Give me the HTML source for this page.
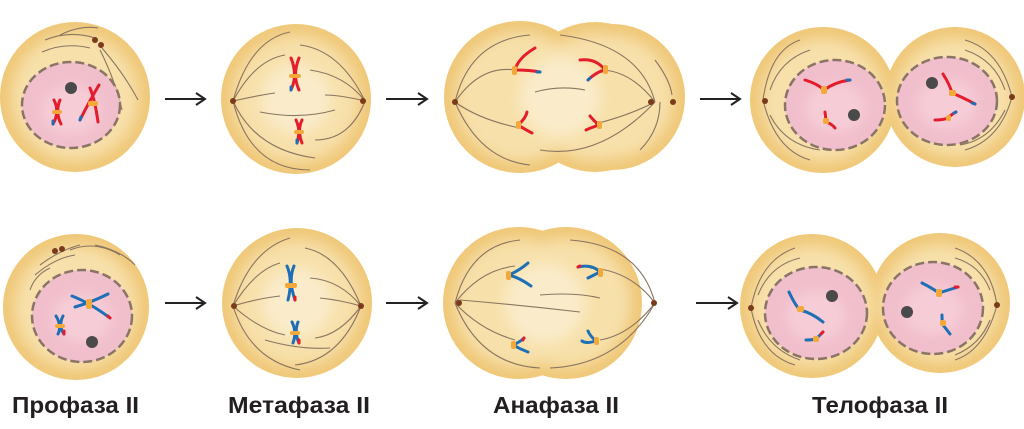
<!DOCTYPE html>
<html><head><meta charset="utf-8"><style>
html,body{margin:0;padding:0;background:#fff;width:1024px;height:429px;overflow:hidden}
svg{display:block}
text{font-family:"Liberation Sans",sans-serif;font-weight:bold;font-size:23px;fill:#231f20}
</style></head><body>
<svg width="1024" height="429" viewBox="0 0 1024 429" xmlns="http://www.w3.org/2000/svg">
<defs>
<filter id="bl" x="-20%" y="-20%" width="140%" height="140%"><feGaussianBlur stdDeviation="7"/></filter>
<filter id="bl2" x="-20%" y="-20%" width="140%" height="140%"><feGaussianBlur stdDeviation="5"/></filter>
</defs>
<g fill="none" stroke="#222" stroke-width="2">
<path d="M165 99H204M196 93L205 99L196 105"/>
<path d="M386 99H426M418 93L427 99L418 105"/>
<path d="M700 99H739M731 93L740 99L731 105"/>
<path d="M165 303H204M196 297L205 303L196 309"/>
<path d="M386 303H426M418 297L427 303L418 309"/>
<path d="M696 303H736M728 297L737 303L728 309"/>
</g>
<!-- cells: edge layer -->
<g fill="#efc777">
<circle cx="75" cy="97" r="75"/>
<circle cx="296" cy="99" r="75"/>
<circle cx="612" cy="97" r="73"/>
<circle cx="595" cy="97" r="75"/>
<circle cx="520" cy="97" r="76"/>
<circle cx="823" cy="100" r="73"/>
<circle cx="955" cy="97" r="70"/>
<circle cx="76" cy="307" r="73"/>
<circle cx="297" cy="303" r="75"/>
<circle cx="566" cy="303" r="76"/>
<circle cx="519" cy="303" r="76"/>
<circle cx="812" cy="306" r="72"/>
<circle cx="940" cy="303" r="70"/>
</g>
<g fill="#f7e0aa" filter="url(#bl)">
<circle cx="75" cy="97" r="64"/>
<circle cx="296" cy="99" r="64"/>
<circle cx="612" cy="97" r="62"/>
<circle cx="595" cy="97" r="64"/>
<circle cx="520" cy="97" r="65"/>
<circle cx="823" cy="100" r="62"/>
<circle cx="955" cy="97" r="59"/>
<circle cx="76" cy="307" r="62"/>
<circle cx="297" cy="303" r="64"/>
<circle cx="566" cy="303" r="65"/>
<circle cx="519" cy="303" r="65"/>
<circle cx="812" cy="306" r="61"/>
<circle cx="940" cy="303" r="59"/>
</g>
<g fill="#faeccb" filter="url(#bl)">
<circle cx="296" cy="99" r="35"/><circle cx="560" cy="97" r="40"/>
<circle cx="297" cy="303" r="35"/><circle cx="545" cy="303" r="40"/>
</g>
<!-- spindle fibers -->
<g fill="none" stroke="#8a7560" stroke-width="1.1">
<path d="M45 40Q70 30 95 38M42 52Q65 42 90 48M102 48Q125 75 138 100M100 50Q115 80 122 110M60 35Q80 25 98 28"/>
<path d="M233 101Q250 40 290 32M233 101Q255 60 285 55M233 101Q260 95 275 93M233 101Q255 150 315 158M233 101Q250 170 310 170M365 101Q340 50 300 45M365 101Q345 75 310 70M365 101Q340 95 325 95M260 112Q300 120 335 110M365 101Q350 140 315 140"/>
<path d="M455 102Q470 40 530 35M455 102Q480 65 515 70M455 102Q480 120 520 128M455 102Q480 160 530 165M655 102Q640 45 560 35M655 102Q630 70 600 70M655 102Q630 115 595 124M655 102Q600 160 540 150M535 92Q560 85 585 90M660 102Q660 130 640 150M655 60Q670 80 672 95"/>
<path d="M763 100Q770 50 800 40M770 90Q780 60 810 50M763 100Q775 150 810 160M770 115Q785 145 820 150M1012 97Q1000 50 965 40M1005 90Q995 60 965 50M1012 97Q1000 140 965 150M1005 110Q990 140 960 145"/>
<path d="M40 265Q60 250 80 245M35 275Q55 258 75 255M70 250Q95 240 120 255M95 245Q120 250 135 265M30 290Q35 275 50 268"/>
<path d="M233 306Q250 250 290 238M233 306Q255 270 280 263M233 306Q260 298 280 296M233 306Q260 330 285 335M233 306Q250 360 300 370M361 306Q340 255 305 248M361 306Q340 280 310 278M361 306Q340 300 320 298M361 306Q340 335 315 338M361 306Q340 360 295 365M265 340Q300 350 330 348"/>
<path d="M455 303Q470 245 520 240M455 303Q480 270 515 266M455 303Q480 330 515 340M455 303Q480 365 540 368M460 300Q520 305 580 312M655 303Q640 245 570 240M655 303Q630 270 590 268M655 303Q630 335 600 340M655 303Q620 365 550 368M540 295Q575 292 600 298"/>
<path d="M751 308Q760 260 795 248M758 295Q770 265 800 258M751 308Q760 355 795 365M758 320Q770 350 800 360M997 305Q990 260 955 248M990 290Q980 265 955 258M997 305Q985 350 955 360M990 320Q980 345 955 355"/>
</g>
<!-- poles -->
<g fill="#7a3a1c">
<circle cx="95" cy="40" r="3"/><circle cx="101" cy="45" r="3"/>
<circle cx="233" cy="101" r="3"/><circle cx="363" cy="101" r="3"/>
<circle cx="455" cy="102" r="3"/><circle cx="651" cy="102" r="3"/><circle cx="673" cy="102" r="3"/>
<circle cx="765" cy="101" r="3"/><circle cx="1012" cy="97" r="3"/>
<circle cx="55" cy="251" r="3"/><circle cx="62" cy="249" r="3"/>
<circle cx="234" cy="306" r="3"/><circle cx="361" cy="306" r="3"/>
<circle cx="459" cy="303" r="3"/><circle cx="654" cy="303" r="3"/>
<circle cx="751" cy="308" r="3"/><circle cx="997" cy="305" r="3"/>
</g>
<!-- nuclei -->
<g fill="#f1bfcc" stroke="#8a7466" stroke-width="2.5" stroke-dasharray="9 4">
<ellipse cx="71" cy="105" rx="49" ry="43"/>
<ellipse cx="835" cy="105" rx="50" ry="45"/>
<ellipse cx="947" cy="101" rx="50" ry="44"/>
<ellipse cx="82" cy="316" rx="50" ry="46"/>
<ellipse cx="816" cy="313" rx="51" ry="46"/>
<ellipse cx="933" cy="308" rx="50" ry="46"/>
</g>
<g fill="#f6ccd6" filter="url(#bl2)">
<ellipse cx="71" cy="110" rx="30" ry="25"/>
<ellipse cx="835" cy="108" rx="30" ry="25"/>
<ellipse cx="947" cy="104" rx="30" ry="25"/>
<ellipse cx="82" cy="318" rx="30" ry="25"/>
<ellipse cx="816" cy="316" rx="30" ry="25"/>
<ellipse cx="933" cy="310" rx="30" ry="25"/>
</g>
<g fill="#4a4a4a">
<circle cx="71" cy="88" r="6"/><circle cx="854" cy="115" r="6"/><circle cx="932" cy="83" r="6"/>
<circle cx="92" cy="342" r="6"/><circle cx="832" cy="296" r="6"/><circle cx="907" cy="312" r="6"/>
</g>
<!-- chromosomes red -->
<g fill="none" stroke="#e31d2b" stroke-width="3" stroke-linecap="round">
<path d="M54 100Q60 112 53 124M60 100Q55 112 61 124"/>
<path d="M99 85Q90 100 80 120M90 88Q95 100 98 122"/>
<path d="M291 58Q298 75 291 90M299 58Q292 75 299 90"/>
<path d="M296 120Q301 130 297 143M302 120Q297 130 302 143"/>
<path d="M535 48Q518 58 515 70Q530 70 540 72"/>
<path d="M580 60Q596 58 605 70Q596 72 588 80"/>
<path d="M518 125Q526 130 532 133M518 125Q526 118 527 112"/>
<path d="M599 125Q590 128 586 130M599 125Q593 120 590 116"/>
<path d="M805 80Q818 84 824 90Q835 82 850 80"/>
<path d="M825 112Q826 120 826 122Q832 124 835 128"/>
<path d="M943 74Q950 85 952 93Q962 97 975 104"/>
<path d="M935 120Q943 120 948 118Q952 114 956 112"/>
</g>
<!-- chromosomes blue -->
<g fill="none" stroke="#1e6fb5" stroke-width="3" stroke-linecap="round">
<path d="M72 296Q90 303 110 318M75 307Q92 302 108 294"/>
<path d="M56 316Q62 326 58 334M63 316Q58 326 64 334"/>
<path d="M287 266Q293 280 288 300M294 266Q288 280 295 300"/>
<path d="M292 322Q297 332 293 343M298 322Q294 332 299 343"/>
<path d="M509 275Q520 270 528 263M509 275Q520 278 531 286"/>
<path d="M578 267Q592 264 600 272Q596 274 588 278"/>
<path d="M513 345Q520 349 528 352M513 345Q520 342 524 338"/>
<path d="M596 341Q586 344 582 341M596 341Q590 336 588 331"/>
<path d="M789 292Q795 305 800 310Q812 313 823 322"/>
<path d="M806 340Q812 340 816 339Q820 335 823 332"/>
<path d="M922 283Q932 288 939 293Q948 290 958 287"/>
<path d="M942 315Q942 322 943 325Q947 330 950 334"/>
</g>
<g stroke-width="3" stroke-linecap="round">
<path d="M53 124v-3M80 120l1-3M291 90v-3M297 143v-3M540 72h-3M588 80l2-2M850 80h-3M975 104l-3-1M956 112l-2 1" stroke="#1e6fb5"/>
<path d="M64 334v-3M110 318l-2-2M295 300v-3M299 343v-3M578 267l2 -1M524 338l-1 2M823 332l-2 2M958 287l-3 0" stroke="#e31d2b"/>
</g>
<g fill="#f3a93a">
<rect x="52" y="110" width="10" height="4" rx="2"/><rect x="88" y="101" width="10" height="5" rx="2"/>
<rect x="289" y="74" width="12" height="4" rx="2"/><rect x="294" y="130" width="10" height="4" rx="2"/>
<rect x="512" y="66" width="5" height="9" rx="2"/><rect x="603" y="65" width="5" height="9" rx="2"/>
<rect x="516" y="121" width="5" height="8" rx="2"/><rect x="597" y="121" width="5" height="8" rx="2"/>
<rect x="821" y="86" width="6" height="8" rx="2"/><rect x="823" y="118" width="6" height="6" rx="2"/>
<rect x="949" y="90" width="7" height="6" rx="2"/><rect x="946" y="115" width="5" height="6" rx="2"/>
<rect x="86" y="299" width="6" height="10" rx="2"/><rect x="55" y="324" width="10" height="4" rx="2"/>
<rect x="285" y="283" width="12" height="5" rx="2"/><rect x="290" y="331" width="10" height="4" rx="2"/>
<rect x="506" y="271" width="5" height="9" rx="2"/><rect x="598" y="268" width="5" height="9" rx="2"/>
<rect x="511" y="341" width="5" height="8" rx="2"/><rect x="594" y="337" width="5" height="8" rx="2"/>
<rect x="797" y="306" width="7" height="6" rx="2"/><rect x="813" y="336" width="6" height="6" rx="2"/>
<rect x="936" y="289" width="6" height="8" rx="2"/><rect x="940" y="320" width="6" height="6" rx="2"/>
</g>
<text x="12" y="413" textLength="127" lengthAdjust="spacingAndGlyphs">Профаза II</text>
<text x="228" y="413" textLength="142" lengthAdjust="spacingAndGlyphs">Метафаза II</text>
<text x="493" y="413" textLength="126" lengthAdjust="spacingAndGlyphs">Анафаза II</text>
<text x="812" y="413" textLength="136" lengthAdjust="spacingAndGlyphs">Телофаза II</text>
</svg>
</body></html>
